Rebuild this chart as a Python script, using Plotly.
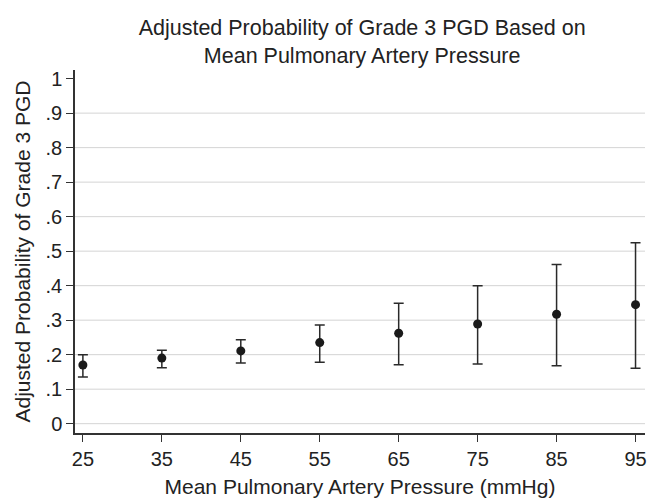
import plotly.graph_objects as go

pressure = [25, 35, 45, 55, 65, 75, 85, 95]
prob = [0.170, 0.190, 0.211, 0.235, 0.262, 0.289, 0.317, 0.345]
lower = [0.135, 0.162, 0.176, 0.178, 0.171, 0.173, 0.168, 0.161]
upper = [0.200, 0.213, 0.243, 0.286, 0.349, 0.400, 0.461, 0.524]
y_ticks = [0, 0.1, 0.2, 0.3, 0.4, 0.5, 0.6, 0.7, 0.8, 0.9, 1]
y_labels = ["0", ".1", ".2", ".3", ".4", ".5", ".6", ".7", ".8", ".9", "1"]
grid_vals = [0, 0.1, 0.2, 0.3, 0.4, 0.5, 0.6, 0.7, 0.8, 0.9]

font = "Liberation Sans, Arial, sans-serif"

fig = go.Figure()
fig.add_trace(go.Scatter(
    x=pressure, y=prob, mode="markers",
    marker=dict(color="#1a1a1a", size=9),
    error_y=dict(type="data", symmetric=False,
                 array=[u - p for u, p in zip(upper, prob)],
                 arrayminus=[p - l for p, l in zip(prob, lower)],
                 color="#2a2a2a", thickness=1.5, width=5),
    cliponaxis=False,
    showlegend=False,
))

shapes = [dict(type="line", xref="paper", x0=0, x1=1, yref="y", y0=g, y1=g,
               line=dict(color="#d4d4d4", width=1), layer="below") for g in grid_vals]

fig.update_layout(
    width=649, height=500,
    margin=dict(l=75, r=4, t=70, b=67, autoexpand=False),
    paper_bgcolor="white", plot_bgcolor="white",
    font=dict(family=font, size=20, color="#222"),
    title=dict(text="Adjusted Probability of Grade 3 PGD Based on<br>Mean Pulmonary Artery Pressure",
               x=0.558, xanchor="center", y=0.93, yanchor="top",
               font=dict(size=21.5, color="#222")),
    shapes=shapes,
    annotations=[dict(text="Adjusted Probability of Grade 3 PGD", textangle=-90,
                      xref="paper", yref="paper", x=-(75 - 22) / 570, y=0.5,
                      xanchor="center", yanchor="middle", showarrow=False,
                      font=dict(size=21, color="#222"))],
    xaxis=dict(range=[24, 96.2], tickvals=pressure, ticktext=[str(p) for p in pressure],
               showgrid=False, zeroline=False, showline=True, linecolor="#333", linewidth=1.5,
               ticks="outside", ticklen=7, tickcolor="#333", tickwidth=1.2,
               tickfont=dict(size=20), automargin=False,
               title=dict(text="Mean Pulmonary Artery Pressure (mmHg)", standoff=11,
                          font=dict(size=21))),
    yaxis=dict(range=[-0.027, 1.025], tickvals=y_ticks, ticktext=y_labels,
               showgrid=False, zeroline=False, showline=True, linecolor="#333", linewidth=1.5,
               ticks="outside", ticklen=7, tickcolor="#333", tickwidth=1.2,
               tickfont=dict(size=20), automargin=False),
)

fig.write_html("out.html", config={"displayModeBar": False},
               post_script="document.body.style.margin='0';")
